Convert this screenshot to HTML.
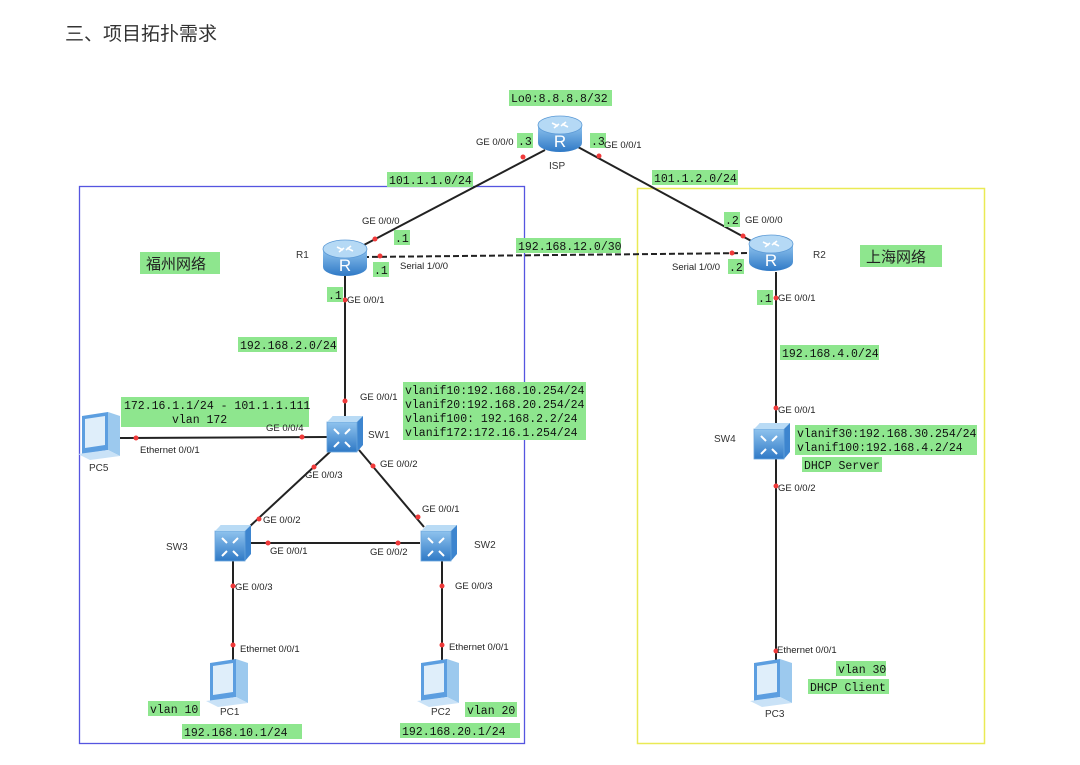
<!DOCTYPE html>
<html><head><meta charset="utf-8"><style>
body{margin:0;background:#fff;}
svg{display:block}
.m{font-family:"Liberation Mono",monospace;font-size:11.5px;fill:#111}
.s{font-family:"Liberation Sans",sans-serif;font-size:9.5px;fill:#222}
.n{font-family:"Liberation Sans",sans-serif;font-size:10px;fill:#333}
.g{fill:#8ee68e}
.d{fill:#f03a3a}
</style></head><body>
<svg width="1080" height="765" viewBox="0 0 1080 765" xmlns="http://www.w3.org/2000/svg">
<defs>
<linearGradient id="rb" x1="0" y1="0" x2="0" y2="1"><stop offset="0" stop-color="#8fc3ee"/><stop offset="1" stop-color="#2f79c6"/></linearGradient>
<g id="router">
<path d="M-22,-8 L-22,10 A22,9 0 0 0 22,10 L22,-8 Z" fill="url(#rb)"/>
<ellipse cx="0" cy="-8" rx="22" ry="9" fill="#b5d9f5" stroke="#5c9ad6" stroke-width="0.8"/>
<path d="M-8,-10 l6,3 M8,-6 l-6,-3 M-6,-5 l5,-4 M6,-11 l-5,4" stroke="#fff" stroke-width="1.6"/>
<text x="0" y="14" text-anchor="middle" font-family="Liberation Sans,sans-serif" font-size="17" fill="#fff">R</text>
</g>
<g id="sw">
<path d="M-17,-10 L-11,-17 L19,-17 L19,12 L13,19 L-17,19 Z" fill="#3d85cf"/>
<rect x="-17" y="-11" width="30" height="30" fill="url(#rb)" stroke="#6aa5dc" stroke-width="0.8"/>
<path d="M-17,-11 L-11,-17 L19,-17 L13,-11 Z" fill="#b9dbf5"/>
<path d="M-10,-4 l5,5 M6,-4 l-5,5 M-10,14 l5,-5 M6,14 l-5,-5" stroke="#fff" stroke-width="2"/>
</g>
<g id="pc">
<path d="M-16,-20 L10,-24 L10,14 L-16,18 Z" fill="#5c9ee0"/>
<path d="M-13,-17 L7,-20 L7,9 L-13,12 Z" fill="#dfeefa"/>
<path d="M10,-24 L22,-20 L22,20 L10,14 Z" fill="#9cc9ee"/>
<path d="M-20,18 L10,14 L22,20 L-8,24 Z" fill="#c9e2f7"/>
</g>
</defs>
<text x="65" y="40" font-family="Liberation Sans,'Noto Sans CJK SC',sans-serif" font-size="19" fill="#333">三、项目拓扑需求</text>

<rect x="79.5" y="186.5" width="445" height="557" fill="none" stroke="#5555e0" stroke-width="1.3"/>
<rect x="637.5" y="188.5" width="347" height="555" fill="none" stroke="#eaea55" stroke-width="1.5"/>

<g stroke="#222" stroke-width="2" fill="none">
<line x1="545" y1="150" x2="362" y2="246"/>
<line x1="578" y1="147" x2="755" y2="243"/>
<line x1="363" y1="257" x2="752" y2="253" stroke-dasharray="6,3"/>
<line x1="345" y1="276" x2="345" y2="420"/>
<line x1="120" y1="438" x2="328" y2="437"/>
<line x1="332" y1="450" x2="248" y2="528"/>
<line x1="359" y1="450" x2="424" y2="527"/>
<line x1="250" y1="543" x2="420" y2="543"/>
<line x1="233" y1="558" x2="233" y2="660"/>
<line x1="442" y1="558" x2="442" y2="660"/>
<line x1="776" y1="272" x2="776" y2="424"/>
<line x1="776" y1="458" x2="776" y2="660"/>
</g>

<g class="d">
<circle cx="523" cy="157" r="2.5"/><circle cx="599" cy="156" r="2.5"/>
<circle cx="375" cy="239" r="2.5"/><circle cx="380" cy="256" r="2.5"/>
<circle cx="743" cy="236" r="2.5"/><circle cx="732" cy="253" r="2.5"/>
<circle cx="345" cy="300" r="2.5"/><circle cx="776" cy="298" r="2.5"/>
<circle cx="345" cy="401" r="2.5"/><circle cx="136" cy="438" r="2.5"/><circle cx="302" cy="437" r="2.5"/>
<circle cx="314" cy="467" r="2.5"/><circle cx="373" cy="466" r="2.5"/>
<circle cx="259" cy="519" r="2.5"/><circle cx="418" cy="517" r="2.5"/>
<circle cx="268" cy="543" r="2.5"/><circle cx="398" cy="543" r="2.5"/>
<circle cx="233" cy="586" r="2.5"/><circle cx="442" cy="586" r="2.5"/>
<circle cx="233" cy="645" r="2.5"/><circle cx="442" cy="645" r="2.5"/>
<circle cx="776" cy="408" r="2.5"/><circle cx="776" cy="486" r="2.5"/><circle cx="776" cy="651" r="2.5"/>
</g>

<use href="#router" x="560" y="133"/>
<use href="#router" x="345" y="257"/>
<use href="#router" x="771" y="252"/>
<use href="#sw" x="344" y="433"/>
<use href="#sw" x="232" y="542"/>
<use href="#sw" x="438" y="542"/>
<use href="#sw" x="771" y="440"/>
<use href="#pc" x="98" y="436"/>
<use href="#pc" x="226" y="683"/>
<use href="#pc" x="437" y="683"/>
<use href="#pc" x="770" y="683"/>

<!-- green labels -->
<g class="g">
<rect x="509" y="90" width="103" height="16"/>
<rect x="517" y="133" width="16" height="15"/><rect x="590" y="133" width="16" height="15"/>
<rect x="387" y="172" width="86" height="15"/><rect x="652" y="170" width="86" height="15"/>
<rect x="394" y="230" width="16" height="15"/><rect x="373" y="262" width="16" height="15"/>
<rect x="516" y="238" width="105" height="15"/>
<rect x="724" y="212" width="16" height="15"/><rect x="728" y="259" width="16" height="15"/>
<rect x="140" y="252" width="80" height="22"/><rect x="860" y="245" width="82" height="22"/>
<rect x="327" y="287" width="16" height="15"/><rect x="757" y="290" width="16" height="15"/>
<rect x="238" y="337" width="99" height="15"/><rect x="780" y="345" width="99" height="15"/>
<rect x="403" y="382" width="183" height="58"/>
<rect x="121" y="397" width="188" height="30"/>
<rect x="795" y="425" width="182" height="30"/><rect x="802" y="457" width="80" height="15"/>
<rect x="148" y="701" width="52" height="15"/><rect x="465" y="702" width="52" height="15"/>
<rect x="182" y="724" width="120" height="15"/><rect x="400" y="723" width="120" height="15"/>
<rect x="836" y="661" width="50" height="15"/><rect x="808" y="679" width="81" height="15"/>
</g>
<g class="m">
<text x="511" y="102">Lo0:8.8.8.8/32</text>
<text x="518" y="145">.3</text><text x="591" y="145">.3</text>
<text x="389" y="184">101.1.1.0/24</text><text x="654" y="182">101.1.2.0/24</text>
<text x="395" y="242">.1</text><text x="374" y="274">.1</text>
<text x="518" y="250">192.168.12.0/30</text>
<text x="725" y="224">.2</text><text x="729" y="271">.2</text>
<text x="328" y="299">.1</text><text x="758" y="302">.1</text>
<text x="240" y="349">192.168.2.0/24</text><text x="782" y="357">192.168.4.0/24</text>
<text x="405" y="394">vlanif10:192.168.10.254/24</text>
<text x="405" y="408">vlanif20:192.168.20.254/24</text>
<text x="405" y="422">vlanif100: 192.168.2.2/24</text>
<text x="405" y="436">vlanif172:172.16.1.254/24</text>
<text x="124" y="409">172.16.1.1/24 - 101.1.1.111</text>
<text x="172" y="423">vlan 172</text>
<text x="797" y="437">vlanif30:192.168.30.254/24</text>
<text x="797" y="451">vlanif100:192.168.4.2/24</text>
<text x="804" y="469">DHCP Server</text>
<text x="150" y="713">vlan 10</text><text x="467" y="714">vlan 20</text>
<text x="184" y="736">192.168.10.1/24</text><text x="402" y="735">192.168.20.1/24</text>
<text x="838" y="673">vlan 30</text><text x="810" y="691">DHCP Client</text>
</g>
<g font-family="Liberation Sans,'Noto Sans CJK SC',sans-serif" font-size="15" fill="#222">
<text x="146" y="269">福州网络</text><text x="866" y="262">上海网络</text>
</g>
<g class="s">
<text x="476" y="145">GE 0/0/0</text><text x="604" y="148">GE 0/0/1</text>
<text x="362" y="224">GE 0/0/0</text><text x="400" y="269">Serial 1/0/0</text>
<text x="745" y="223">GE 0/0/0</text><text x="672" y="270">Serial 1/0/0</text>
<text x="347" y="303">GE 0/0/1</text><text x="778" y="301">GE 0/0/1</text>
<text x="360" y="400">GE 0/0/1</text><text x="266" y="431">GE 0/0/4</text>
<text x="140" y="453">Ethernet 0/0/1</text>
<text x="305" y="478">GE 0/0/3</text><text x="380" y="467">GE 0/0/2</text>
<text x="263" y="523">GE 0/0/2</text><text x="422" y="512">GE 0/0/1</text>
<text x="270" y="554">GE 0/0/1</text><text x="370" y="555">GE 0/0/2</text>
<text x="235" y="590">GE 0/0/3</text><text x="455" y="589">GE 0/0/3</text>
<text x="240" y="652">Ethernet 0/0/1</text><text x="449" y="650">Ethernet 0/0/1</text>
<text x="777" y="653">Ethernet 0/0/1</text>
<text x="778" y="413">GE 0/0/1</text><text x="778" y="491">GE 0/0/2</text>
</g>
<g class="n">
<text x="549" y="169">ISP</text><text x="296" y="258">R1</text><text x="813" y="258">R2</text>
<text x="368" y="438">SW1</text><text x="166" y="550">SW3</text><text x="474" y="548">SW2</text>
<text x="714" y="442">SW4</text>
<text x="89" y="471">PC5</text><text x="220" y="715">PC1</text><text x="431" y="715">PC2</text><text x="765" y="717">PC3</text>
</g>
</svg>
</body></html>
